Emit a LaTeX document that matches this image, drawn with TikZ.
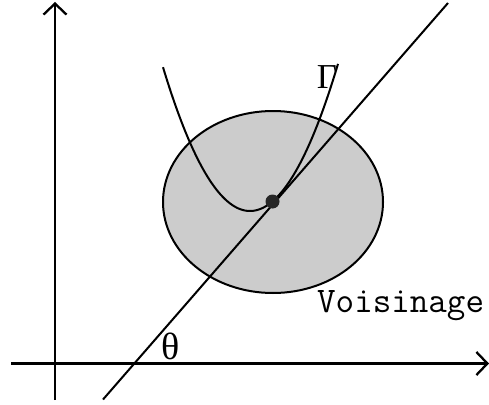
\documentclass[tikz,border=0pt]{standalone}
\usepackage{fontspec}
\setmainfont{Liberation Serif}
\usetikzlibrary{arrows.meta,shapes.geometric}
\definecolor{zonegray}{RGB}{204,204,204}
\tikzset{
  axis/.style={line width=2.3pt, -{Straight Barb[length=11pt,width=23pt,line width=2.3pt]}},
  curve/.style={line width=2pt},
  zone/.style={ellipse, draw, line width=2pt, fill=zonegray, minimum width=220pt, minimum height=182pt, inner sep=0pt},
  pt/.style={circle, fill=black!85, minimum width=14pt, minimum height=13pt, inner sep=0pt},
  lbl/.style={font=\fontsize{35}{35}\selectfont, inner sep=0pt},
  thlbl/.style={font=\fontsize{38}{38}\selectfont, inner sep=0pt},
  monolbl/.style={font=\ttfamily\fontsize{36}{36}\selectfont, inner sep=0pt}
}
\begin{document}
\begin{tikzpicture}[x=1pt,y=-1pt]
\useasboundingbox (0,0) rectangle (489,404);
% neighbourhood
\node[zone] (voisin) at (273,202) {};
% axes
\coordinate (xs) at (11,363.5);
\coordinate (xe) at (489,363.5);
\coordinate (ys) at (55,400);
\coordinate (ye) at (55,2);
\draw[axis] (xs) -- (xe);
\draw[axis] (ys) -- (ye);
% curve Gamma
\draw[curve] plot[domain=163:338, samples=80, smooth] (\x, {211-0.019*(\x-250)*(\x-250)});
% tangent line
\coordinate (ls) at (103,399.5);
\coordinate (le) at (448,3);
\draw[curve] (ls) -- (le);
% point
\node[pt] (p) at (272.5,201.5) {};
% labels
\node[lbl] (gamma) at (327,77) {Γ};
\node[thlbl] (theta) at (171,346) {θ};
\node[monolbl, anchor=base west] (vlabel) at (317,312) {Voisinage};
\end{tikzpicture}
\end{document}
